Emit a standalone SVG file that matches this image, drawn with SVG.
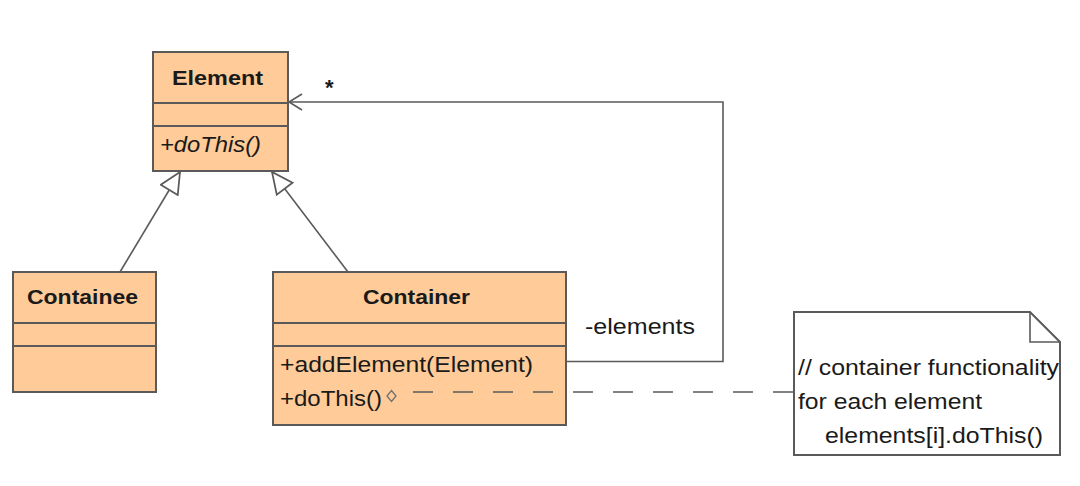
<svg xmlns="http://www.w3.org/2000/svg" width="1080" height="486" viewBox="0 0 1080 486">
<style>
.box{fill:#FECB99;stroke:#5a5a5a;stroke-width:2}
.sep{stroke:#5a5a5a;stroke-width:2}
.t{font-family:"Liberation Sans",Arial,sans-serif;font-size:22px;fill:#1a1a1a}
.b{font-weight:bold;font-size:21px}
.i{font-style:italic}
.ln{fill:none;stroke:#5a5a5a;stroke-width:1.6}
.dash{fill:none;stroke:#5a5a5a;stroke-width:1.6;stroke-dasharray:20 20}
.note{fill:#fff;stroke:#5a5a5a;stroke-width:2}
</style>
<defs>
<marker id="gen" markerUnits="userSpaceOnUse" markerWidth="24" markerHeight="22" refX="19" refY="9" orient="auto" viewBox="-1 -1 21 20">
<path d="M0,0 L19,9 L0,18 Z" fill="#fff" stroke="#5a5a5a" stroke-width="1.6"/>
</marker>
<marker id="open" markerUnits="userSpaceOnUse" markerWidth="16" markerHeight="18" refX="13" refY="8" orient="auto" viewBox="-1 -1 16 18">
<path d="M0,0 L13,8 L0,16" fill="none" stroke="#5a5a5a" stroke-width="1.6"/>
</marker>
</defs>
<rect width="1080" height="486" fill="#fff"/>
<g id="element">
<rect class="box" x="153" y="52" width="135" height="119"/>
<line class="sep" x1="153" y1="103" x2="288" y2="103"/>
<line class="sep" x1="153" y1="126" x2="288" y2="126"/>
<text class="t b" x="172" y="85" textLength="91" lengthAdjust="spacingAndGlyphs">Element</text>
<text class="t i" x="160" y="152" textLength="101" lengthAdjust="spacingAndGlyphs">+doThis()</text>
</g>
<g id="containee">
<rect class="box" x="13" y="272" width="143" height="120"/>
<line class="sep" x1="13" y1="323" x2="156" y2="323"/>
<line class="sep" x1="13" y1="346" x2="156" y2="346"/>
<text class="t b" x="27" y="304" textLength="111" lengthAdjust="spacingAndGlyphs">Containee</text>
</g>
<g id="container">
<rect class="box" x="273" y="272" width="293" height="153"/>
<line class="sep" x1="273" y1="323" x2="566" y2="323"/>
<line class="sep" x1="273" y1="346" x2="566" y2="346"/>
<text class="t b" x="363" y="304" textLength="107" lengthAdjust="spacingAndGlyphs">Container</text>
<text class="t" x="280" y="372" textLength="253" lengthAdjust="spacingAndGlyphs">+addElement(Element)</text>
<text class="t" x="280" y="406" textLength="102" lengthAdjust="spacingAndGlyphs">+doThis()</text>
<path d="M391.5,390.5 L396,396 L391.5,401.5 L387,396 Z" fill="#FECB99" stroke="#707070" stroke-width="1.3"/>
</g>
<g id="note">
<path class="note" d="M794,312 L1030,312 L1060,342 L1060,455 L794,455 Z"/>
<path class="ln" d="M1030,312 L1030,342 L1060,342" stroke-width="2"/>
<text class="t" x="798" y="375" textLength="261" lengthAdjust="spacingAndGlyphs">// container functionality</text>
<text class="t" x="798" y="409" textLength="184" lengthAdjust="spacingAndGlyphs">for each element</text>
<text class="t" x="825" y="443" textLength="218" lengthAdjust="spacingAndGlyphs">elements[i].doThis()</text>
</g>
<g id="connectors">
<path class="ln" d="M120,272 L180,172" marker-end="url(#gen)"/>
<path class="ln" d="M348,272 L272,172" marker-end="url(#gen)"/>
<path class="ln" d="M566,361.5 L723,361.5 L723,102 L289,102" marker-end="url(#open)"/>
<path class="dash" d="M413,392 L794,392"/>
<text class="t" x="325" y="95" font-size="24px" font-weight="bold">*</text>
<text class="t" x="585" y="334" textLength="110" lengthAdjust="spacingAndGlyphs">-elements</text>
</g>
</svg>
